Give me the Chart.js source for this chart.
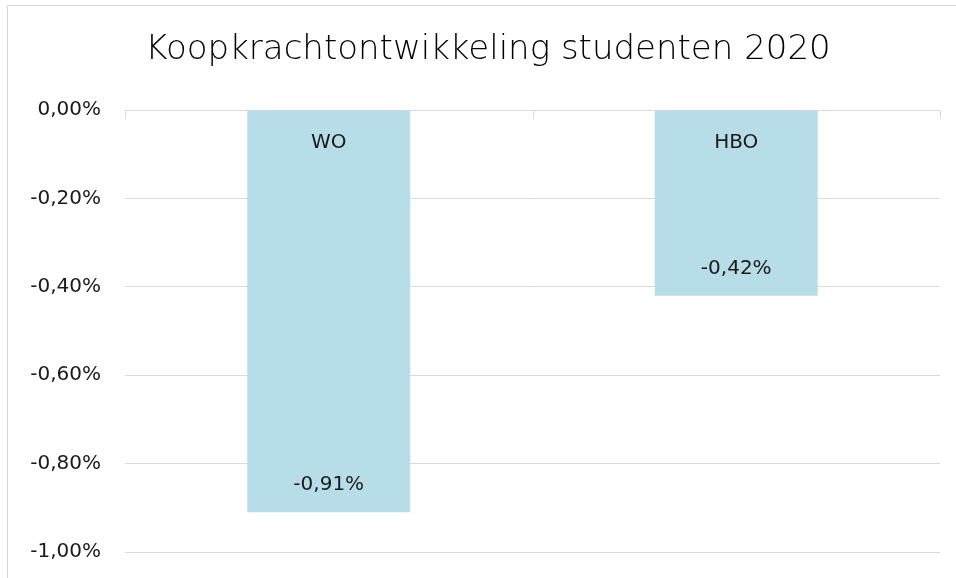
<!DOCTYPE html>
<html>
<head>
<meta charset="utf-8">
<script src="https://cdn.jsdelivr.net/npm/chart.js@4.4.0/dist/chart.umd.min.js"></script>
<style>
  html, body { margin: 0; padding: 0; background: #fff; overflow: hidden; }
  #wrap { width: 956px; height: 578px; position: relative; overflow: hidden; }
  #frame { position: absolute; left: 7px; top: 5px; width: 2000px; height: 2000px; border: 1px solid #d9d9d9; }
  #chart { position: absolute; left: 0; top: 0; }
</style>
</head>
<body>
<div id="wrap"><div id="frame"></div><canvas id="chart" width="956" height="578"></canvas></div>
<script>
// Données
const titleText = "Koopkrachtontwikkeling studenten 2020";
const categories = ["WO", "HBO"];
const values = [-0.91, -0.42];
const yTicks = [-1.0, -0.8, -0.6, -0.4, -0.2, 0];

const FONT = "'DejaVu Sans', sans-serif";
const TEXT = "#1a1a1a";
const GRID = "#d9d9d9";

function pct(v) {
  return v.toFixed(2).replace(".", ",") + "%";
}

// Titre, graduations de l'axe des catégories et étiquettes
const decorPlugin = {
  id: "decor",
  afterDatasetsDraw(chart) {
    const ctx = chart.ctx;
    const area = chart.chartArea;
    const x = chart.scales.x;
    const y = chart.scales.y;
    ctx.save();

    // titre
    ctx.fillStyle = "#000";
    ctx.font = "200 34px " + FONT;
    ctx.textAlign = "center";
    ctx.textBaseline = "middle";
    ctx.fillText(titleText, 488, 50);

    // graduations de l'axe en haut
    const y0 = Math.round(y.getPixelForValue(0)) + 0.5;
    ctx.strokeStyle = GRID;
    ctx.lineWidth = 1;
    const step = (area.right - area.left) / categories.length;
    for (let i = 0; i <= categories.length; i++) {
      const px = Math.round(area.left + i * step) + 0.5;
      ctx.beginPath();
      ctx.moveTo(px, y0);
      ctx.lineTo(px, y0 + 8);
      ctx.stroke();
    }

    // étiquettes
    ctx.font = "20px " + FONT;
    ctx.fillStyle = TEXT;
    categories.forEach((c, i) => {
      const cx = x.getPixelForValue(i);
      ctx.fillText(c, cx, y0 + 32);
      const by = y.getPixelForValue(values[i]);
      ctx.fillText(pct(values[i]), cx, by - 27);
    });
    ctx.restore();
  },
};

const ctx = document.getElementById("chart").getContext("2d");
new Chart(ctx, {
  type: "bar",
  data: {
    labels: categories,
    datasets: [
      {
        data: values,
        backgroundColor: "#b7dde8",
        borderWidth: 0,
        categoryPercentage: 1,
        barPercentage: 0.4,
      },
    ],
  },
  options: {
    responsive: false,
    animation: false,
    layout: { padding: { top: 110, bottom: 26, right: 16, left: 0 } },
    plugins: {
      legend: { display: false },
      title: { display: false },
      tooltip: { enabled: false },
    },
    scales: {
      x: { display: false },
      y: {
        min: -1,
        max: 0,
        afterFit(scale) {
          scale.width = 125;
          scale.paddingTop = 0;
          scale.paddingBottom = 0;
        },
        afterBuildTicks(scale) {
          scale.ticks = yTicks.map((v) => ({ value: v }));
        },
        grid: { color: GRID, drawTicks: false, lineWidth: 1 },
        border: { display: false },
        ticks: {
          padding: 24,
          color: TEXT,
          font: { family: FONT, size: 20 },
          callback: (v) => pct(v),
        },
      },
    },
  },
  plugins: [decorPlugin],
});
</script>
</body>
</html>
